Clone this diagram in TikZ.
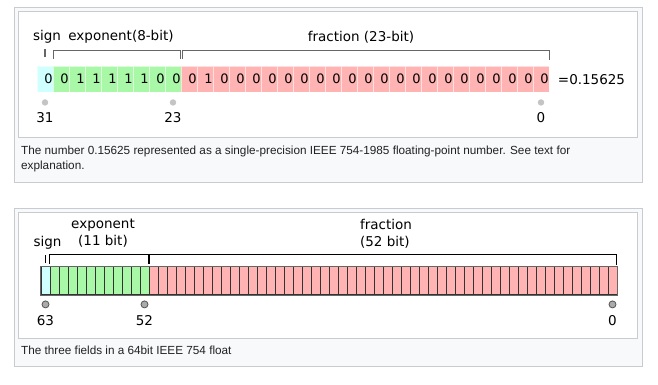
\documentclass[tikz,border=0pt]{standalone}
\usepackage{fontspec}
\setmainfont{DejaVu Sans}
\newfontfamily\capfont{Liberation Sans}
\usepackage{tikz}
\usetikzlibrary{positioning}
\definecolor{signc}{HTML}{CFFFFF}
\definecolor{expc}{HTML}{A8F8A8}
\definecolor{fracc}{HTML}{FFB3B3}
\definecolor{boxline}{HTML}{C8CCD1}
\definecolor{capbg}{HTML}{F8F9FA}
\definecolor{captext}{HTML}{202122}
\definecolor{brkgray}{HTML}{666666}
\definecolor{dotc}{HTML}{C4C4C4}
\definecolor{dotcc}{HTML}{ABABAB}
\definecolor{dotline}{HTML}{555555}
\definecolor{cellline}{HTML}{333333}

\begin{document}
\begin{tikzpicture}[x=1pt, y=-1pt]
        \tikzset{frame/.style = {draw=boxline, fill=capbg, line width=0.8pt}}
        \tikzset{panel/.style = {draw=boxline, fill=white, line width=0.8pt}}
        \tikzset{captxt/.style = {inner sep=0pt, anchor=base west, text=captext, font=\capfont\fontsize{11.75}{15}\selectfont}}
        \tikzset{lab/.style = {inner sep=0pt, font=\fontsize{13.5}{17}\selectfont}}
        \tikzset{tcell/.style = {shape=rectangle, minimum width=16pt, minimum height=26.5pt, inner sep=0pt, draw=white, draw opacity=0.6, line width=0.5pt, font=\fontsize{13}{13}\selectfont}}
        \tikzset{bcell/.style = {shape=rectangle, minimum width=9pt, minimum height=28pt, inner sep=0pt, draw=cellline, line width=1pt}}
        \tikzset{tbrk/.style = {draw=brkgray, line width=1.3pt}}
        \tikzset{bbrk/.style = {draw=black, line width=1pt}}
        \tikzset{tdot/.style = {shape=circle, minimum size=6.4pt, inner sep=0pt, fill=dotc}}
        \tikzset{bdot/.style = {shape=circle, minimum size=7pt, inner sep=0pt, fill=dotcc, draw=dotline, line width=0.8pt}}
        \useasboundingbox[fill=white] (0,0) rectangle (658,385);
        % frames
        \draw[frame] (14,7) rectangle (642,182);
        \draw[panel] (18,11) rectangle (637,137);
        \draw[frame] (14,208) rectangle (642,366);
        \draw[panel] (18,212) rectangle (637,338);
        % captions
        \node[captxt] (cap1) at (21,154) {The number 0.15625 represented as a single-precision IEEE 754-1985 floating-point number. See text for};
        \node[captxt] (cap1b) at (21,169.7) {explanation.};
        \node[captxt] (cap2) at (21,354.3) {The three fields in a 64bit IEEE 754 float};

        % cells single
        \node[tcell, fill=signc] (t31) at (45,79.25) {\hspace*{7pt}0};
        \foreach \b [count=\k] in {0,1,1,1,1,1,0,0}{
          \pgfmathtruncatemacro{\n}{31-\k}
          \node[tcell, fill=expc] (t\n) at (45+16*\k,79.25) {\hspace*{7pt}\b};
        }
        \foreach \b [count=\k from 9] in {0,1,0,0,0,0,0,0,0,0,0,0,0,0,0,0,0,0,0,0,0,0,0}{
          \pgfmathtruncatemacro{\n}{31-\k}
          \node[tcell, fill=fracc] (t\n) at (45+16*\k,79.25) {\hspace*{7pt}\b};
        }
        \node[lab, right=8.5pt of t0] (val) {=0.15625};
        % brackets single
        \draw[tbrk] ([yshift=9pt]t31.north) -- ([yshift=17pt]t31.north);
        \draw[tbrk] ([shift={(1pt,7pt)}]t30.north west) |- ([yshift=15pt]t23.north) -| ([shift={(-0.5pt,7pt)}]t23.north east);
        \draw[tbrk] ([shift={(2pt,7pt)}]t22.north west) |- ([yshift=15pt]t0.north) -| ([yshift=6pt]t0.north east);
        \node[lab] (tsign) at (47,37) {sign};
        \node[lab] (texp) at (121,37) {exponent(8-bit)};
        \node[lab] (tfrac) at (361,37) {fraction (23-bit)};
        % bit positions single
        \node[tdot, below=6.3pt of t31] (d31) {};
        \node[tdot, below=6.3pt of t23] (d23) {};
        \node[tdot, below=6.3pt of t0] (d0) {};
        \node[lab, below=6.5pt of d31] (n31) {31};
        \node[lab, below=6.5pt of d23] (n23) {23};
        \node[lab, below=6.5pt of d0] (n0) {0};

        % cells double
        \node[bcell, fill=signc] (b63) at (45.5,280.5) {};
        \foreach \k in {1,...,11}{
          \pgfmathtruncatemacro{\n}{63-\k}
          \node[bcell, fill=expc] (b\n) at (45.5+9*\k,280.5) {};
        }
        \foreach \k in {12,...,63}{
          \pgfmathtruncatemacro{\n}{63-\k}
          \node[bcell, fill=fracc] (b\n) at (45.5+9*\k,280.5) {};
        }
        \draw[draw=brkgray, line width=1pt] (b63.north west) rectangle (b0.south east);
        % brackets double
        \draw[bbrk] ([yshift=3pt]b63.north) -- ([yshift=11.5pt]b63.north);
        \draw[bbrk] ([shift={(0pt,2.5pt)}]b62.north west) |- ([yshift=11.5pt]b52.north) -| ([shift={(-1pt,2.5pt)}]b52.north east);
        \draw[bbrk] ([shift={(1pt,2.5pt)}]b51.north west) |- ([yshift=11.5pt]b0.north) -| ([shift={(-1pt,1.5pt)}]b0.north east);
        \node[lab] (bsign) at (47.5,243) {sign};
        \node[lab, align=center] (bexp) at (103,233.5) {exponent\\(11 bit)};
        \node[lab, align=left] (bfrac) at (386,233.5) {fraction\\(52 bit)};
        % bit positions double
        \node[bdot, below=5.5pt of b63] (d63) {};
        \node[bdot, below=5.5pt of b52] (d52) {};
        \node[bdot, below=5.5pt of b0] (dd0) {};
        \node[lab, below=6.5pt of d63] (n63) {63};
        \node[lab, below=6.5pt of d52] (n52) {52};
        \node[lab, below=6.5pt of dd0] (nn0) {0};
\end{tikzpicture}
\end{document}
